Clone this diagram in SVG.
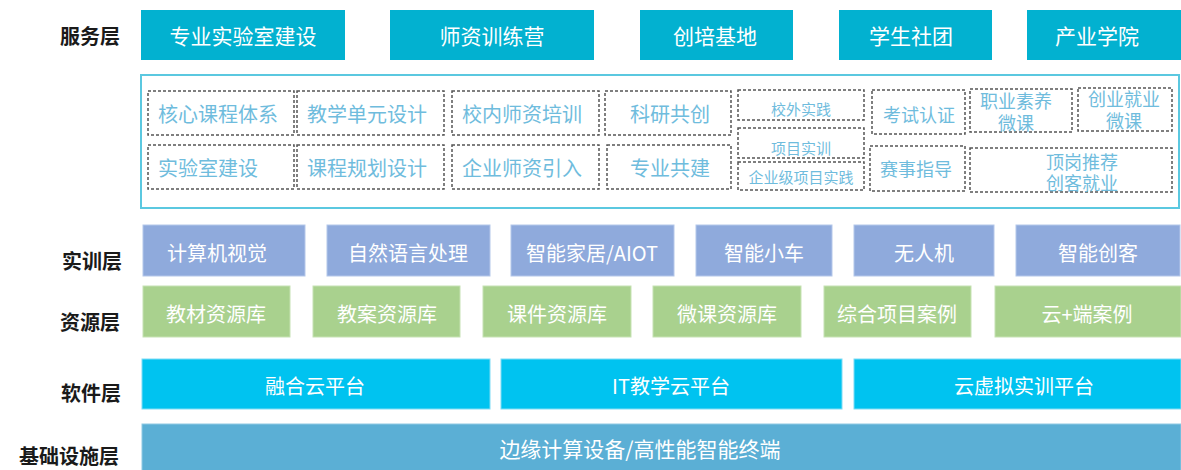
<svg xmlns="http://www.w3.org/2000/svg" width="1181" height="470" viewBox="0 0 1181 470">
<style>
text{font-family:"Noto Sans CJK SC","Noto Sans",sans-serif;dominant-baseline:central}
.lbl{font-size:20px;font-weight:bold;fill:#1a1a1a;text-anchor:end}
.w{fill:#ffffff;font-size:20px;text-anchor:middle}
.svc{fill:#02b1d0}
.trn{fill:#8faadc;stroke:#b4c7ea;stroke-width:1}
.res{fill:#a9d18e;stroke:#c6e2b3;stroke-width:1}
.sw{fill:#00c3f0;stroke:#7fdcf5;stroke-width:1}
.inf{fill:#5bafd5;stroke:#8fcae4;stroke-width:1}
.dash{fill:#ffffff;stroke:#555555;stroke-width:1.5;stroke-dasharray:3 2}
.b{fill:#6fbcdd;font-size:20px}
.bm{fill:#6fbcdd;font-size:20px;text-anchor:middle}
.s{fill:#6fbcdd;font-size:15px;text-anchor:middle}
.m{fill:#6fbcdd;font-size:18px;text-anchor:middle}
</style>
<g id="labels">
<text class="lbl" x="120" y="35">服务层</text>
<text class="lbl" x="122" y="260">实训层</text>
<text class="lbl" x="120" y="321">资源层</text>
<text class="lbl" x="121" y="392">软件层</text>
<text class="lbl" x="119" y="455">基础设施层</text>
</g>
<g id="service">
<g id="svc1"><rect class="svc" x="141" y="10" width="204" height="50"/><text class="w" x="243" y="35" style="font-size:21px">专业实验室建设</text></g>
<g id="svc2"><rect class="svc" x="390" y="10" width="204" height="50"/><text class="w" x="492" y="35" style="font-size:21px">师资训练营</text></g>
<g id="svc3"><rect class="svc" x="640" y="10" width="153" height="50"/><text class="w" x="715" y="35" style="font-size:21px">创培基地</text></g>
<g id="svc4"><rect class="svc" x="839" y="10" width="153" height="50"/><text class="w" x="911" y="35" style="font-size:21px">学生社团</text></g>
<g id="svc5"><rect class="svc" x="1027" y="10" width="154" height="50"/><text class="w" x="1097" y="35" style="font-size:21px">产业学院</text></g>
</g>
<g id="service-detail">
<rect x="141" y="75" width="1038" height="133" fill="#ffffff" stroke="#5bc8e0" stroke-width="2"/>
<g id="d1"><rect class="dash" x="148" y="91" width="146" height="44"/><text class="b" x="158" y="113">核心课程体系</text></g>
<g id="d2"><rect class="dash" x="297" y="91" width="147" height="44"/><text class="b" x="307" y="113">教学单元设计</text></g>
<g id="d3"><rect class="dash" x="452" y="91" width="147" height="44"/><text class="b" x="462" y="113">校内师资培训</text></g>
<g id="d4"><rect class="dash" x="605" y="91" width="126" height="44"/><text class="bm" x="670" y="113">科研共创</text></g>
<g id="d5"><rect class="dash" x="738" y="90" width="126" height="30"/><text class="s" x="801" y="108">校外实践</text></g>
<g id="d6"><rect class="dash" x="738" y="128" width="126" height="30"/><text class="s" x="801" y="147">项目实训</text></g>
<g id="d7"><rect class="dash" x="738" y="162" width="126" height="28"/><text class="s" x="801" y="176">企业级项目实践</text></g>
<g id="d8"><rect class="dash" x="872" y="90" width="93" height="44"/><text class="m" x="919" y="114">考试认证</text></g>
<g id="d9"><rect class="dash" x="970" y="89" width="102" height="43"/><text class="m" x="1016" y="100">职业素养</text><text class="m" x="1016" y="122">微课</text></g>
<g id="d10"><rect class="dash" x="1078" y="88" width="94" height="43"/><text class="m" x="1124" y="98">创业就业</text><text class="m" x="1124" y="120">微课</text></g>
<g id="d11"><rect class="dash" x="148" y="145" width="146" height="44"/><text class="b" x="158" y="167">实验室建设</text></g>
<g id="d12"><rect class="dash" x="297" y="145" width="147" height="44"/><text class="b" x="307" y="167">课程规划设计</text></g>
<g id="d13"><rect class="dash" x="452" y="145" width="147" height="44"/><text class="b" x="462" y="167">企业师资引入</text></g>
<g id="d14"><rect class="dash" x="607" y="145" width="124" height="44"/><text class="bm" x="670" y="167">专业共建</text></g>
<g id="d15"><rect class="dash" x="870" y="146" width="95" height="45"/><text class="m" x="916" y="168">赛事指导</text></g>
<g id="d16"><rect class="dash" x="970" y="148" width="202" height="44"/><text class="m" x="1082" y="161">顶岗推荐</text><text class="m" x="1082" y="182">创客就业</text></g>
</g>
<g id="training">
<g id="t1"><rect class="trn" x="143" y="225" width="162" height="51"/><text class="w" x="217" y="252">计算机视觉</text></g>
<g id="t2"><rect class="trn" x="327" y="225" width="163" height="51"/><text class="w" x="408" y="252">自然语言处理</text></g>
<g id="t3"><rect class="trn" x="511" y="225" width="163" height="51"/><text class="w" x="592" y="252">智能家居/AIOT</text></g>
<g id="t4"><rect class="trn" x="696" y="225" width="136" height="51"/><text class="w" x="764" y="252">智能小车</text></g>
<g id="t5"><rect class="trn" x="854" y="225" width="140" height="51"/><text class="w" x="924" y="252">无人机</text></g>
<g id="t6"><rect class="trn" x="1016" y="225" width="164" height="51"/><text class="w" x="1098" y="252">智能创客</text></g>
</g>
<g id="resource">
<g id="r1"><rect class="res" x="143" y="286" width="147" height="51"/><text class="w" x="216" y="313">教材资源库</text></g>
<g id="r2"><rect class="res" x="313" y="286" width="147" height="51"/><text class="w" x="387" y="313">教案资源库</text></g>
<g id="r3"><rect class="res" x="483" y="286" width="148" height="51"/><text class="w" x="557" y="313">课件资源库</text></g>
<g id="r4"><rect class="res" x="653" y="286" width="148" height="51"/><text class="w" x="727" y="313">微课资源库</text></g>
<g id="r5"><rect class="res" x="824" y="286" width="147" height="51"/><text class="w" x="897" y="313">综合项目案例</text></g>
<g id="r6"><rect class="res" x="995" y="286" width="186" height="51"/><text class="w" x="1087" y="313">云+端案例</text></g>
</g>
<g id="software">
<g id="s1"><rect class="sw" x="142" y="359" width="348" height="50"/><text class="w" x="315" y="385">融合云平台</text></g>
<g id="s2"><rect class="sw" x="501" y="359" width="341" height="50"/><text class="w" x="671" y="385">IT教学云平台</text></g>
<g id="s3"><rect class="sw" x="854" y="359" width="327" height="50"/><text class="w" x="1024" y="385">云虚拟实训平台</text></g>
</g>
<g id="infra">
<rect class="inf" x="142" y="424" width="1039" height="50"/><text class="w" x="640" y="448" style="font-size:21px">边缘计算设备/高性能智能终端</text>
</g>
<g id="connectors"/>
</svg>
